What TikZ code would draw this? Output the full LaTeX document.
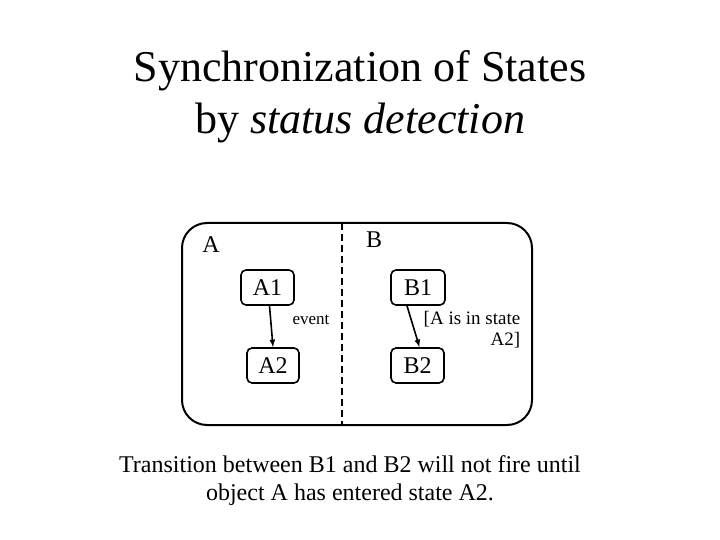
\documentclass[tikz,border=0pt]{standalone}
\usepackage{fontspec}
\setmainfont{Liberation Serif}
\begin{document}
\begin{tikzpicture}[x=1pt,y=-1pt,
  st/.style={draw,line width=1.6pt,rounded corners=5pt,minimum width=53pt,minimum height=35pt,font=\fontsize{24}{26}\selectfont},
  lbl/.style={font=\fontsize{24}{26}\selectfont},
  arr/.style={-latex,line width=1.6pt}]
\useasboundingbox (0,0) rectangle (720,540);
\node[align=center,font=\fontsize{44}{52}\selectfont] (title) at (360,97) {Synchronization of States\\by \textit{status detection}};
\draw[line width=2pt,rounded corners=25pt] (182,223) rectangle (532,425);
\coordinate (dt) at (342,223); \coordinate (db) at (342,425);
\draw[line width=2pt,dash pattern=on 7pt off 4pt] (dt) -- (db);
\node[lbl] (la) at (211,245) {A};
\node[lbl] (lb) at (374,240) {B};
\node[st,minimum width=53pt] (a1) at (267.5,287.5) {A1};
\node[st,minimum width=52pt] (a2) at (273,365.5) {A2};
\node[st,minimum width=54pt] (b1) at (418,287.5) {B1};
\node[st,minimum width=53pt] (b2) at (417.5,365.5) {B2};
\draw[arr] (a1.south) ++(2,0) coordinate (a1s) (a1s) -- (a2.north);
\draw[arr] (b1.south) ++(-11,0) coordinate (b1s) (b1s) -- ([xshift=2pt]b2.north);
\node[font=\fontsize{17}{19}\selectfont] (ev) at (311,320) {event};
\node[font=\fontsize{19}{21}\selectfont,align=right] (cond) at (472,330) {[A is in state\\A2]};
\node[align=center,font=\fontsize{24}{28}\selectfont] (cap) at (350,481) {Transition between B1 and B2 will not fire until\\object A has entered state A2.};
\end{tikzpicture}
\end{document}
